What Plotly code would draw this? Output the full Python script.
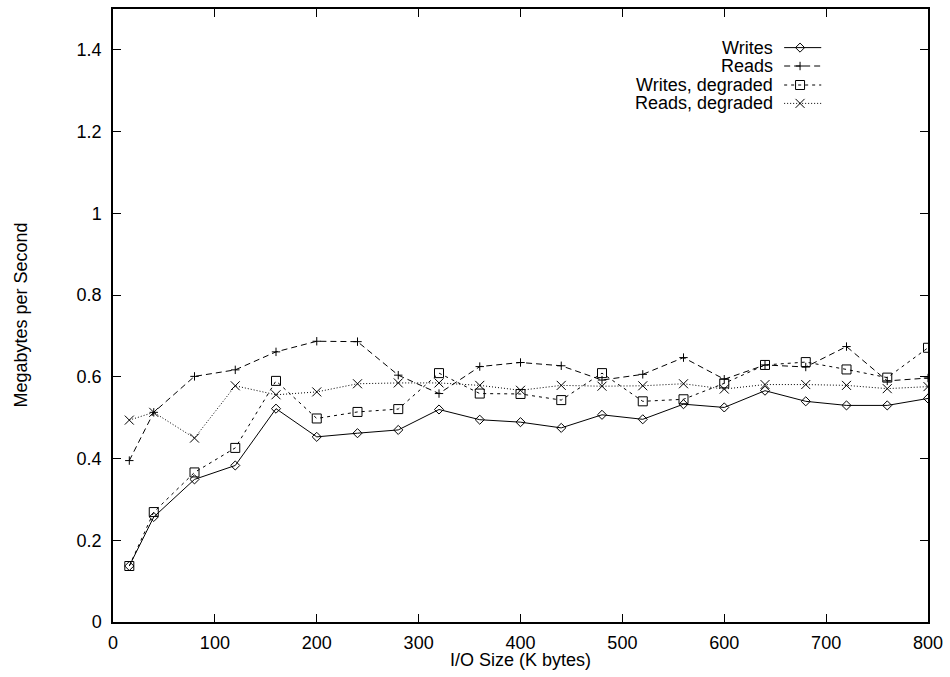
import plotly.graph_objects as go

# I/O request sizes (K bytes)
io_size = [16, 40, 80, 120, 160, 200, 240, 280, 320, 360, 400, 440, 480,
           520, 560, 600, 640, 680, 720, 760, 800]

# Throughput in megabytes per second
writes = [0.137, 0.257, 0.349, 0.383, 0.522, 0.453, 0.462, 0.470, 0.520, 0.495,
          0.489, 0.475, 0.507, 0.496, 0.533, 0.525, 0.566, 0.540, 0.530, 0.530, 0.547]
reads = [0.395, 0.513, 0.601, 0.617, 0.661, 0.687, 0.686, 0.604, 0.559, 0.625,
         0.635, 0.627, 0.592, 0.606, 0.647, 0.594, 0.629, 0.624, 0.674, 0.590, 0.597]
writes_degraded = [0.137, 0.269, 0.366, 0.426, 0.590, 0.498, 0.514, 0.521, 0.609, 0.559,
                   0.558, 0.543, 0.609, 0.540, 0.545, 0.584, 0.629, 0.636, 0.618, 0.598, 0.671]
reads_degraded = [0.494, 0.513, 0.450, 0.578, 0.556, 0.563, 0.583, 0.585, 0.585, 0.579,
                  0.567, 0.579, 0.577, 0.578, 0.583, 0.570, 0.581, 0.581, 0.579, 0.571, 0.576]

series_names = ["Writes", "Reads", "Writes, degraded", "Reads, degraded"]
series_values = [writes, reads, writes_degraded, reads_degraded]

x_ticks = [0, 100, 200, 300, 400, 500, 600, 700, 800]
y_ticks = [0, 0.2, 0.4, 0.6, 0.8, 1.0, 1.2, 1.4]
y_tick_labels = ["0", "0.2", "0.4", "0.6", "0.8", "1", "1.2", "1.4"]

styles = [
    dict(dash="solid", symbol="diamond-open", size=7),
    dict(dash="6px,4px", symbol="cross-thin-open", size=6),
    dict(dash="3px,4px", symbol="square-open", size=9),
    dict(dash="1px,2px", symbol="x-thin-open", size=9),
]

FONT = "Liberation Sans, Arial, Helvetica, sans-serif"
INK = "black"

fig = go.Figure()

for name, vals, st in zip(series_names, series_values, styles):
    fig.add_trace(go.Scatter(
        x=io_size, y=vals, name=name, mode="lines+markers",
        line=dict(color=INK, width=1, dash=st["dash"]),
        marker=dict(symbol=st["symbol"], size=st["size"], color=INK,
                    line=dict(color=INK, width=1)),
        showlegend=False,
    ))

# Key in the upper right: label on the left, line sample with point on the right
key_rows = [0.937, 0.907, 0.876, 0.846]
key_text_x = 0.8125
key_line = [0.8235, 0.843, 0.869]
for name, st, ky in zip(series_names, styles, key_rows):
    fig.add_trace(go.Scatter(
        x=key_line, y=[ky, ky, ky], mode="lines+markers",
        xaxis="x2", yaxis="y2",
        line=dict(color=INK, width=1, dash=st["dash"]),
        marker=dict(symbol=st["symbol"], size=st["size"], color=INK,
                    opacity=[0, 1, 0], line=dict(color=INK, width=1)),
        showlegend=False, hoverinfo="skip",
    ))
    fig.add_annotation(x=key_text_x, y=ky, xref="paper", yref="paper",
                       text=name, showarrow=False, xanchor="right",
                       yanchor="middle", font=dict(family=FONT, size=18, color=INK))

axis_common = dict(
    showgrid=False, zeroline=False, showline=True, linecolor=INK, linewidth=1.5,
    mirror="ticks", ticks="inside", ticklen=8, tickwidth=1.2, tickcolor=INK,
    tickfont=dict(family=FONT, size=18, color=INK),
)

fig.update_layout(
    width=950, height=677,
    margin=dict(l=113, r=21, t=7, b=55),
    paper_bgcolor="white", plot_bgcolor="white",
    xaxis=dict(range=[0, 800], tickvals=x_ticks, ticklabelstandoff=4, **axis_common),
    yaxis=dict(range=[0, 1.5], tickvals=y_ticks, ticktext=y_tick_labels,
               ticklabelstandoff=6, **axis_common),
    xaxis2=dict(range=[0, 1], overlaying="x", visible=False),
    yaxis2=dict(range=[0, 1], overlaying="y", visible=False),
)

# Axis titles
fig.add_annotation(x=0.5, y=-0.0625, xref="paper", yref="paper",
                   text="I/O Size (K bytes)", showarrow=False,
                   xanchor="center", yanchor="middle",
                   font=dict(family=FONT, size=18, color=INK))
fig.add_annotation(x=-0.1140, y=0.5, xref="paper", yref="paper",
                   text="Megabytes per Second", showarrow=False, textangle=-90,
                   xanchor="center", yanchor="middle",
                   font=dict(family=FONT, size=18, color=INK))

fig.write_html("out.html")
